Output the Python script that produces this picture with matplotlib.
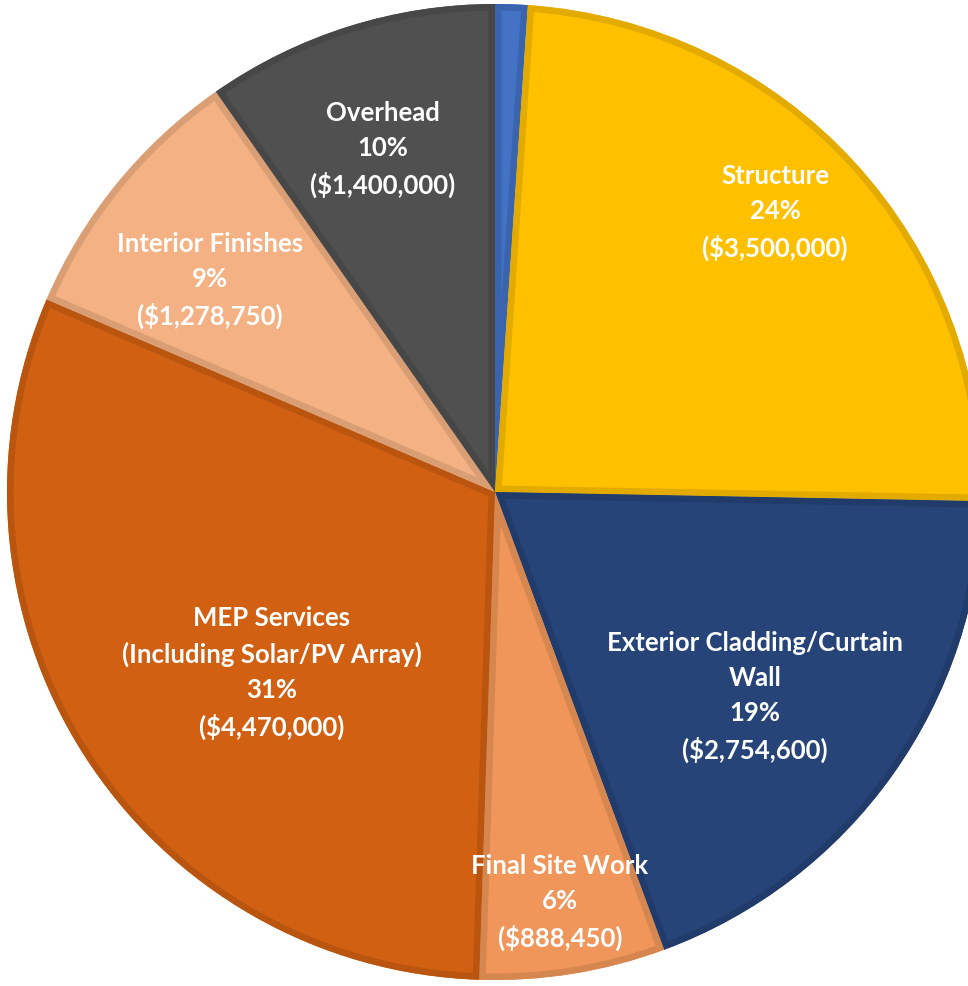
import matplotlib.pyplot as plt
import matplotlib.patches as mpatches

# cost breakdown (first slice is the small unlabeled one)
categories = ["", "Structure", "Exterior Cladding/Curtain\nWall", "Final Site Work",
              "MEP Services\n(Including Solar/PV Array)", "Interior Finishes", "Overhead"]
costs = [155000, 3500000, 2754600, 888450, 4470000, 1278750, 1400000]
pct_labels = ["", "24%", "19%", "6%", "31%", "9%", "10%"]

colors = ["#4472C4", "#FFC000", "#264478", "#F0965A", "#D16012", "#F4B183", "#505050"]
edge_colors = ["#3B64AF", "#E3AB00", "#213C6B", "#D6864F", "#BA5510", "#DA9E75", "#474747"]

# label anchors, in units of the pie radius
label_pos = [None, (0.574, 0.572), (0.533, -0.420), (0.133, -0.842),
             (-0.457, -0.371), (-0.584, 0.434), (-0.230, 0.701)]

W, H = 968, 986
cx, cy = 495, 492   # pie centre in pixels (from top-left)
R = 488

fig = plt.figure(figsize=(W / 100, H / 100), dpi=100)
ax = fig.add_axes([0, 0, 1, 1])

wedges, _ = ax.pie(costs, colors=colors, startangle=90, counterclock=False,
                   radius=R, center=(0, 0), frame=True,
                   wedgeprops=dict(linewidth=0))
ax.set_xlim(-cx, W - cx)
ax.set_ylim(-(H - cy), cy)
ax.axis("off")

# darker inner border on each slice
for w, ec in zip(wedges, edge_colors):
    b = mpatches.Wedge(w.center, w.r, w.theta1, w.theta2, facecolor="none",
                       edgecolor=ec, linewidth=9.4)
    ax.add_patch(b)
    b.set_clip_path(w)

for i, cat in enumerate(categories):
    if label_pos[i] is None:
        continue
    txt = f"{cat}\n{pct_labels[i]}\n(${costs[i]:,})"
    ax.text(label_pos[i][0] * R, label_pos[i][1] * R, txt, ha="center", va="center",
            color="white", fontsize=18.5, fontweight="bold", family="Lato",
            linespacing=1.54)

fig.savefig("out.png", dpi=100)
